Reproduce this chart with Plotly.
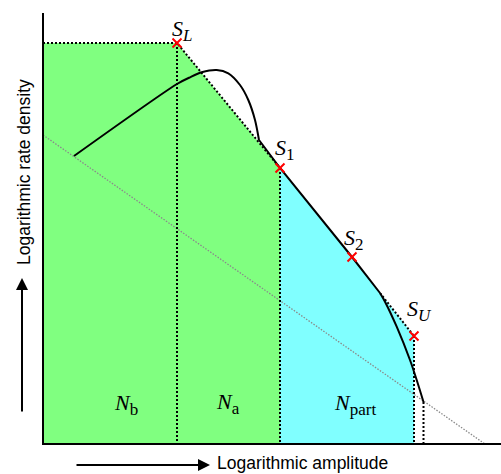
import plotly.graph_objects as go

# Data coordinates: x = log amplitude, y = log rate density (arbitrary units, origin at axes corner)
SL = (134, 401)
S1 = (237, 276)
S2 = (309, 187)
BRK = (337, 151)
SU = (371, 108)
END = (380.5, 42)

# Green region (N_b + N_a) boundary
green_x = [0, 0, SL[0], S1[0], S1[0], 0]
green_y = [0, SL[1], SL[1], S1[1], 0, 0]

# Cyan region (N_part) boundary
cyan_x = [S1[0], S1[0], S2[0], BRK[0], SU[0], SU[0], S1[0]]
cyan_y = [0, S1[1], S2[1], BRK[1], SU[1], 0, 0]

# Observed (solid) distribution curve: rising part + hump, straight part, steep tail
hump_x = [31, 134, 147, 158.7, 173.7, 185.3, 197, 205.3, 212, 216]
hump_y = [288, 360, 366.7, 371.7, 374, 370.7, 359, 344, 324, 304]
mid_x = [216, 237, 309, 337]
mid_y = [304, 276, 187, 151]
tail_x = [337, 342, 353.7, 367, 373.7, 380.5]
tail_y = [151, 142.3, 117.3, 84, 64, 42]

# Background (gray dotted) line
bg_x = [0, 442]
bg_y = [309, 0]

mark_x = [SL[0], S1[0], S2[0], SU[0]]
mark_y = [SL[1], S1[1], S2[1], SU[1]]
sub_style = "<span style='font-size:17px'>{}</span>"
mark_labels = ["<i>S</i><sub>" + sub_style.format("<i>L</i>") + "</sub>",
               "<i>S</i><sub>" + sub_style.format("1") + "</sub>",
               "<i>S</i><sub>" + sub_style.format("2") + "</sub>",
               "<i>S</i><sub>" + sub_style.format("<i>U</i>") + "</sub>"]
label_x = [139, 242, 311, 376]
label_y = [414, 295, 205, 134]

region_labels = ["<i>N</i><sub>" + sub_style.format("b") + "</sub>",
                 "<i>N</i><sub>" + sub_style.format("a") + "</sub>",
                 "<i>N</i><sub>" + sub_style.format("part") + "</sub>"]
region_x = [83, 185, 312]
region_y = [40, 41, 40]

fig = go.Figure()

fig.add_trace(go.Scatter(x=green_x, y=green_y, fill="toself", fillcolor="#80FF80",
                         line=dict(width=0), mode="lines", hoverinfo="skip"))
fig.add_trace(go.Scatter(x=cyan_x, y=cyan_y, fill="toself", fillcolor="#80FFFF",
                         line=dict(width=0), mode="lines", hoverinfo="skip"))

fig.add_trace(go.Scatter(x=bg_x, y=bg_y, mode="lines",
                         line=dict(color="#8a8a8a", width=1.3, dash="1.5px,1.5px")))

dot = dict(color="black", width=2, dash="2px,2px")
fig.add_trace(go.Scatter(x=[0, SL[0], S1[0]], y=[SL[1], SL[1], S1[1]], mode="lines", line=dot))
fig.add_trace(go.Scatter(x=[BRK[0], SU[0]], y=[BRK[1], SU[1]], mode="lines", line=dot))
for vx, vy in [(SL[0], SL[1]), (S1[0], S1[1]), (SU[0], SU[1]), (END[0], END[1])]:
    fig.add_trace(go.Scatter(x=[vx, vx], y=[vy, 0], mode="lines", line=dot))

solid = dict(color="black", width=2)
fig.add_trace(go.Scatter(x=hump_x, y=hump_y, mode="lines", line=dict(solid, shape="spline", smoothing=0.8)))
fig.add_trace(go.Scatter(x=mid_x, y=mid_y, mode="lines", line=solid))
fig.add_trace(go.Scatter(x=tail_x, y=tail_y, mode="lines", line=dict(solid, shape="spline", smoothing=0.8)))

fig.add_trace(go.Scatter(x=[0, 0, 458], y=[431, 0, 0], mode="lines",
                         line=dict(color="black", width=2)))

fig.add_trace(go.Scatter(x=mark_x, y=mark_y, mode="markers",
                         marker=dict(symbol="x-thin", size=9, line=dict(color="red", width=2))))

serif = "Liberation Serif, Times New Roman, serif"
sans = "Liberation Sans, Arial, sans-serif"

for t, lx, ly in zip(mark_labels, label_x, label_y):
    fig.add_annotation(x=lx, y=ly, text=t, showarrow=False, xanchor="center", yanchor="middle",
                       font=dict(family=serif, size=22, color="black"))
for t, lx, ly in zip(region_labels, region_x, region_y):
    fig.add_annotation(x=lx, y=ly, text=t, showarrow=False, xanchor="center", yanchor="middle",
                       font=dict(family=serif, size=22, color="black"))

fig.add_annotation(x=167, y=-21, ax=32, ay=-21, xref="x", yref="y", axref="x", ayref="y",
                   text="", showarrow=True, arrowhead=2, arrowsize=1.2, arrowwidth=2, arrowcolor="black")
fig.add_annotation(x=172, y=-19, text="Logarithmic amplitude", showarrow=False,
                   xanchor="left", yanchor="middle", font=dict(family=sans, size=17.5, color="black"))
fig.add_annotation(x=-21, y=166, ax=-21, ay=31, xref="x", yref="y", axref="x", ayref="y",
                   text="", showarrow=True, arrowhead=2, arrowsize=1.2, arrowwidth=2, arrowcolor="black")
fig.add_annotation(x=-19, y=272, text="Logarithmic rate density", showarrow=False, textangle=-90,
                   xanchor="center", yanchor="middle", font=dict(family=sans, size=17.5, color="black"))

fig.update_layout(
    width=501, height=474, margin=dict(l=0, r=0, t=0, b=0),
    paper_bgcolor="white", plot_bgcolor="white", showlegend=False,
    xaxis=dict(range=[-43, 458], visible=False, fixedrange=True),
    yaxis=dict(range=[-30, 444], visible=False, fixedrange=True),
)

fig.write_html("out.html", config={"displayModeBar": False},
               post_script="document.body.style.margin='0';document.body.style.overflow='hidden';")
